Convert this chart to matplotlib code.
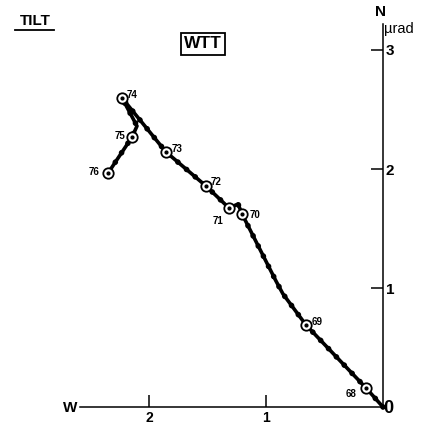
import matplotlib.pyplot as plt

# tilt path, units of microradians: west component (positive = W), north component
path_west = [0.0, 0.145, 0.658, 0.855, 0.915, 1.205, 1.239, 1.316, 1.513, 1.855, 2.231, 2.103, 2.145, 2.350]
path_north = [0.0, 0.160, 0.689, 0.950, 1.059, 1.622, 1.706, 1.672, 1.857, 2.143, 2.597, 2.361, 2.269, 1.966]

# labelled (circled) points
day_labels = ["68", "69", "70", "71", "72", "73", "74", "75", "76"]
day_west = [0.145, 0.658, 1.205, 1.316, 1.513, 1.855, 2.231, 2.145, 2.350]
day_north = [0.160, 0.689, 1.622, 1.672, 1.857, 2.143, 2.597, 2.269, 1.966]

# label offsets (points)
label_offsets = [(-11, -4), (8, 2), (9, -1), (-8, -9), (7, 3), (8, 2), (7, 2), (-9, 1), (-10, 1)]

x_ticks = [1, 2]
y_ticks = [1, 2, 3]

font = "Liberation Sans"


def main():
    fig = plt.figure(figsize=(4.36, 4.25), dpi=100)
    ax = fig.add_axes([0, 0, 1, 1])
    ax.set_xlim(3.274, -0.453)
    ax.set_ylim(-0.151, 3.42)

    # axes through the origin
    ax.spines["top"].set_visible(False)
    ax.spines["left"].set_visible(False)
    ax.spines["bottom"].set_position(("data", 0))
    ax.spines["bottom"].set_bounds(0, 2.59)
    ax.spines["right"].set_position(("data", 0))
    ax.spines["right"].set_bounds(0, 3.22)
    for s in ("bottom", "right"):
        ax.spines[s].set_linewidth(1.1)
    ax.yaxis.tick_right()
    ax.set_xticks(x_ticks)
    ax.set_yticks(y_ticks)
    ax.set_xticklabels([str(v) for v in x_ticks], fontfamily=font, fontweight="bold", fontsize=10)
    ax.set_yticklabels([str(v) for v in y_ticks], fontfamily=font, fontweight="bold", fontsize=11)
    ax.tick_params(axis="x", direction="in", length=8.5, width=1.1, pad=2.5)
    ax.tick_params(axis="y", direction="in", length=8.5, width=1.1, pad=2)

    # the tilt path: thick line plus beaded overlay
    ax.plot(path_west, path_north, color="black", lw=2.6, solid_joinstyle="round", zorder=3)
    ax.plot(path_west, path_north, color="black", lw=4.0, linestyle=(0, (0.05, 2.0)),
            dash_capstyle="round", zorder=3)

    # circled days
    ax.plot(day_west, day_north, "o", ms=7.5, mfc="white", mec="black", mew=1.3, zorder=4)
    ax.plot(day_west, day_north, "o", ms=2.0, color="black", zorder=5)
    for lab, xw, yn, off in zip(day_labels, day_west, day_north, label_offsets):
        ax.annotate(lab, (xw, yn), xytext=off, textcoords="offset points",
                    ha="center", va="center", fontsize=7, fontweight="bold",
                    fontfamily=font)

    # axis annotations
    ax.text(0, -0.01, "0", transform=ax.transData, ha="left", va="center",
            fontsize=13, fontweight="bold", fontfamily=font)
    ax.text(70 / 436, 1 - 408 / 425, "W", transform=fig.transFigure, ha="center",
            va="center", fontsize=11, fontweight="bold", fontfamily=font)
    ax.text(380 / 436, 1 - 12 / 425, "N", transform=fig.transFigure, ha="center",
            va="center", fontsize=11, fontweight="bold", fontfamily=font)
    ax.text(384 / 436, 1 - 29 / 425, "µrad", transform=fig.transFigure, ha="left",
            va="center", fontsize=10.5, fontfamily=font)

    # titles
    fig.text(35 / 436, 1 - 21 / 425, "TILT", ha="center", va="center",
             fontsize=11, fontweight="bold", fontfamily=font)
    fig.add_artist(plt.Line2D([15 / 436, 54 / 436], [1 - 30 / 425, 1 - 30 / 425],
                              color="black", lw=1.3))
    fig.text(203 / 436, 1 - 44 / 425, "WTT", ha="center", va="center",
             fontsize=12.5, fontweight="bold", fontfamily=font,
             bbox=dict(boxstyle="square,pad=0.2", fc="white", ec="black", lw=1.3))

    fig.savefig("out.png", dpi=100)


if __name__ == "__main__":
    main()
